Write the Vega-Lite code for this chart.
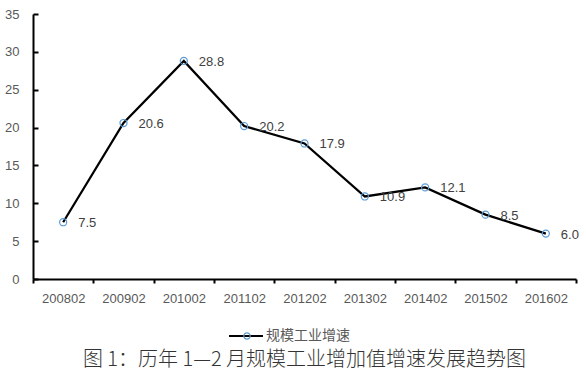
{
  "$schema": "https://vega.github.io/schema/vega-lite/v6.json",
  "autosize": "none",
  "width": 543,
  "height": 265,
  "padding": {"left": 33, "top": 14, "right": 10, "bottom": 95},
  "background": "white",
  "config": {"view": {"stroke": null}, "font": "Liberation Sans"},
  "title": {
    "text": "图 1：历年 1—2 月规模工业增加值增速发展趋势图",
    "orient": "bottom",
    "anchor": "middle",
    "font": "Noto Sans CJK SC",
    "fontSize": 20,
    "fontWeight": 300,
    "color": "#333333",
    "offset": 7
  },
  "data": {
    "values": [
      {"year": "200802", "growth": 7.5},
      {"year": "200902", "growth": 20.6},
      {"year": "201002", "growth": 28.8},
      {"year": "201102", "growth": 20.2},
      {"year": "201202", "growth": 17.9},
      {"year": "201302", "growth": 10.9},
      {"year": "201402", "growth": 12.1},
      {"year": "201502", "growth": 8.5},
      {"year": "201602", "growth": 6.0}
    ]
  },
  "encoding": {
    "x": {
      "field": "year",
      "type": "ordinal",
      "bandPosition": 0.5,
      "scale": {"type": "band", "paddingInner": 0, "paddingOuter": 0},
      "axis": {
        "title": null,
        "labelAngle": 0,
        "tickBand": "extent",
        "domainColor": "#000000",
        "domainWidth": 2,
        "tickColor": "#000000",
        "tickWidth": 2,
        "tickSize": 4,
        "labelPadding": 9,
        "labelFontSize": 13,
        "labelColor": "#595959",
        "grid": false
      }
    },
    "y": {
      "field": "growth",
      "type": "quantitative",
      "scale": {"domain": [0, 35], "nice": false},
      "axis": {
        "title": null,
        "values": [0, 5, 10, 15, 20, 25, 30, 35],
        "domainColor": "#000000",
        "domainWidth": 2,
        "tickColor": "#000000",
        "tickWidth": 2,
        "tickSize": -5,
        "labelPadding": 19,
        "labelFontSize": 13,
        "labelColor": "#595959",
        "grid": false
      }
    }
  },
  "layer": [
    {
      "mark": {"type": "line", "strokeWidth": 2.25},
      "encoding": {
        "color": {
          "datum": "规模工业增速",
          "scale": {"range": ["#000000"]},
          "legend": {
            "orient": "none",
            "legendX": 195,
            "legendY": 304,
            "title": null,
            "padding": 0,
            "symbolType": "M-1,0L1,0",
            "symbolSize": 1156,
            "symbolStrokeWidth": 2,
            "labelFontSize": 14,
            "labelFont": "Noto Sans CJK SC",
            "labelColor": "#595959",
            "labelOffset": 2
          }
        }
      }
    },
    {
      "mark": {"type": "point", "shape": "circle", "filled": false, "color": "#5B9BD5", "strokeWidth": 1.2, "size": 50, "opacity": 1},
      "encoding": {
        "shape": {
          "datum": "p",
          "scale": {"range": ["circle"]},
          "legend": {
            "orient": "none",
            "legendX": 210,
            "legendY": 318,
            "title": null,
            "padding": 0,
            "symbolSize": 40,
            "symbolStrokeWidth": 1.2,
            "labelExpr": "''",
            "labelFontSize": 1,
            "encode": {
              "symbols": {
                "update": {
                  "stroke": {"value": "#5B9BD5"},
                  "fill": {"value": "white"},
                  "opacity": {"value": 1},
                  "strokeOpacity": {"value": 1}
                }
              }
            }
          }
        }
      }
    },
    {
      "mark": {"type": "text", "align": "left", "baseline": "middle", "dx": 15, "dy": 1, "fontSize": 13, "color": "#404040"},
      "encoding": {
        "text": {"field": "growth", "type": "quantitative", "format": ".1f"}
      }
    }
  ]
}
